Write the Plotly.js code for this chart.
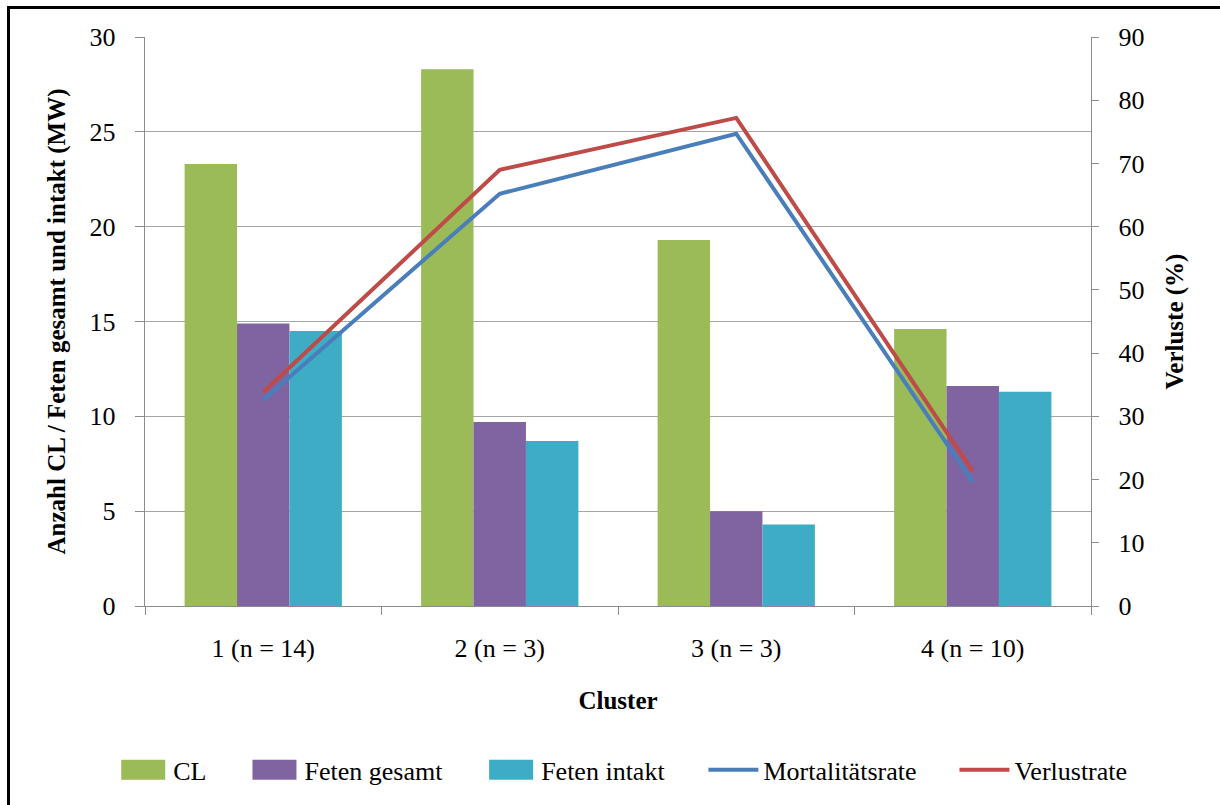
<!DOCTYPE html>
<html>
<head>
<meta charset="utf-8">
<script src="https://cdn.plot.ly/plotly-3.0.1.min.js"></script>
<style>
html,body{margin:0;padding:0;background:#fff;}
#chart{width:1220px;height:805px;}
#frame{position:absolute;left:7px;top:6px;width:1220px;height:810px;border-left:3px solid #000;border-top:3px solid #000;pointer-events:none;}
</style>
</head>
<body>
<div id="chart"></div>
<div id="frame"></div>
<script>
const categories = ['1 (n = 14)', '2 (n = 3)', '3 (n = 3)', '4 (n = 10)'];
const clValues = [23.3, 28.3, 19.3, 14.6];
const fetenGesamt = [14.9, 9.7, 5.0, 11.6];
const fetenIntakt = [14.5, 8.7, 4.3, 11.3];
const mortalitaetsrate = [32.6, 65.2, 74.7, 19.6];
const verlustrate = [33.8, 69.0, 77.2, 21.3];
const leftTicks = [0, 5, 10, 15, 20, 25, 30];
const rightTicks = [0, 10, 20, 30, 40, 50, 60, 70, 80, 90];

const FONT = '"Liberation Serif", "Times New Roman", serif';

const traces = [
  {type:'bar', name:'CL', x:categories, y:clValues, marker:{color:'#9BBB59'}, yaxis:'y'},
  {type:'bar', name:'Feten gesamt', x:categories, y:fetenGesamt, marker:{color:'#8064A2'}, yaxis:'y'},
  {type:'bar', name:'Feten intakt', x:categories, y:fetenIntakt, marker:{color:'#3FACC6'}, yaxis:'y'},
  {type:'scatter', mode:'lines', name:'Mortalitätsrate', x:categories, y:mortalitaetsrate, line:{color:'#4A7EBB', width:4}, yaxis:'y2'},
  {type:'scatter', mode:'lines', name:'Verlustrate', x:categories, y:verlustrate, line:{color:'#BE4B48', width:4}, yaxis:'y2'}
];

const layout = {
  width:1220, height:805,
  paper_bgcolor:'#ffffff', plot_bgcolor:'#ffffff',
  font:{family:FONT, size:26, color:'#000'},
  margin:{l:145, r:129, t:37, b:194},
  barmode:'group', bargap:0.335, bargroupgap:0,
  showlegend:true,
  legend:{orientation:'h', x:0.505, xanchor:'center', y:-0.288, yanchor:'middle',
          font:{family:FONT, size:26, color:'#000'}, itemwidth:50, traceorder:'normal'},
  xaxis:{
    type:'category', showline:true, linecolor:'#8c8c8c', linewidth:1.3,
    ticks:'outside', tickson:'boundaries', ticklen:8, tickcolor:'#8c8c8c',
    ticklabelstandoff:18, showgrid:false,
    tickfont:{family:FONT, size:26},
    title:{text:'<b>Cluster</b>', font:{family:FONT, size:25}, standoff:30}
  },
  yaxis:{
    range:[0,30], tickvals:leftTicks, showline:true, linecolor:'#8c8c8c', linewidth:1.3,
    ticks:'outside', ticklen:9, tickcolor:'#8c8c8c', ticklabelstandoff:14,
    showgrid:true, gridcolor:'#a6a6a6', gridwidth:1.3, zeroline:false,
    tickfont:{family:FONT, size:26},
    title:{text:'<b>Anzahl CL / Feten gesamt und intakt (MW)</b>', font:{family:FONT, size:25}, standoff:16}
  },
  yaxis2:{
    range:[0,90], tickvals:rightTicks, overlaying:'y', side:'right',
    showline:true, linecolor:'#8c8c8c', linewidth:1.3,
    ticks:'outside', ticklen:7, tickcolor:'#8c8c8c', ticklabelstandoff:14,
    showgrid:false, zeroline:false,
    tickfont:{family:FONT, size:26},
    title:{text:'<b>Verluste (%)</b>', font:{family:FONT, size:25}, standoff:22}
  }
};

function styleLegend() {
  document.querySelectorAll('#chart .legend .legendpoints path').forEach(function (p) {
    p.setAttribute('d', 'M22,10H-22V-10H22Z');
  });
  // widen spacing between legend entries, keeping the legend centred
  const items = document.querySelectorAll('#chart .legend g.traces');
  const extra = 33;
  const shift = -extra * (items.length - 1) / 2;
  items.forEach(function (g, i) {
    const t = g.getAttribute('transform') || '';
    const m = t.match(/translate\(\s*([-\d.eE]+)[ ,]+([-\d.eE]+)\s*\)/);
    if (m) {
      const nx = parseFloat(m[1]) + i * extra + shift;
      g.setAttribute('transform', 'translate(' + nx + ',' + m[2] + ')');
    }
  });
  const clip = document.querySelector('#chart .legend .scrollbox');
  if (clip) clip.removeAttribute('clip-path');
}

Plotly.newPlot('chart', traces, layout, {displayModeBar:false, staticPlot:true}).then(styleLegend);
</script>
</body>
</html>
